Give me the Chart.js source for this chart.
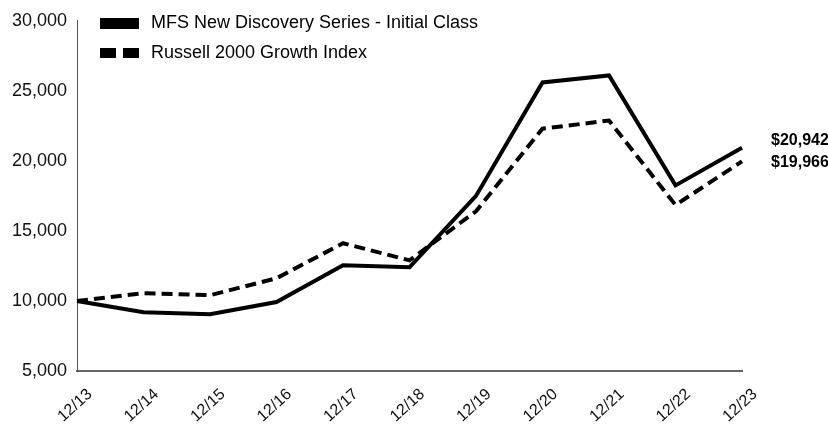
<!DOCTYPE html>
<html>
<head>
<meta charset="utf-8">
<script src="https://cdn.jsdelivr.net/npm/chart.js@4/dist/chart.umd.min.js"></script>
<style>
  html, body { margin: 0; padding: 0; background: #fff; }
  #wrap { width: 828px; height: 429px; }
</style>
</head>
<body>
<div id="wrap"><canvas id="growthChart" width="828" height="429"></canvas></div>
<script>
// values
const years = ["12/13", "12/14", "12/15", "12/16", "12/17", "12/18", "12/19", "12/20", "12/21", "12/22", "12/23"]
const fundValues = [10000, 9200, 9060, 9920, 12550, 12400, 17500, 25600, 26100, 18250, 20942]
const indexValues = [10000, 10550, 10410, 11620, 14120, 12900, 16400, 22300, 22880, 16850, 19966]
const seriesNames = ["MFS New Discovery Series - Initial Class", "Russell 2000 Growth Index"]
const endLabels = ["$20,942", "$19,966"]

const FONT = "'Liberation Sans', Arial, sans-serif"

// legend drawn in the top-left corner of the plot
const legendPlugin = {
  id: "cornerLegend",
  afterDraw(chart) {
    const ctx = chart.ctx
    ctx.save()
    ctx.fillStyle = "#000"
    // solid swatch
    ctx.fillRect(100, 18, 39, 11)
    // dashed swatch
    ctx.fillRect(100, 48, 16, 10)
    ctx.fillRect(123, 48, 16, 10)
    ctx.font = "18px " + FONT
    ctx.textBaseline = "middle"
    ctx.fillText(seriesNames[0], 151, 23)
    ctx.fillText(seriesNames[1], 151, 53)
    ctx.restore()
  }
}

// final values printed next to the last points
const endLabelPlugin = {
  id: "endLabels",
  afterDatasetsDraw(chart) {
    const ctx = chart.ctx
    const last = years.length - 1
    ctx.save()
    ctx.font = "bold 16px " + FONT
    ctx.fillStyle = "#000"
    ctx.textBaseline = "middle"
    const x = chart.scales.x.getPixelForValue(last) + 29
    ctx.fillText(endLabels[0], x, 141)
    ctx.fillText(endLabels[1], x, 163)
    ctx.restore()
  }
}

new Chart(document.getElementById("growthChart"), {
  type: "line",
  data: {
    labels: years,
    datasets: [{
      label: seriesNames[0],
      data: fundValues,
      borderColor: "#000",
      borderWidth: 4,
      pointRadius: 0,
      tension: 0,
      borderJoinStyle: "miter"
    }, {
      label: seriesNames[1],
      data: indexValues,
      borderColor: "#000",
      borderWidth: 4,
      borderDash: [11, 6],
      pointRadius: 0,
      tension: 0,
      borderJoinStyle: "miter"
    }]
  },
  options: {
    responsive: false,
    animation: false,
    layout: { padding: { top: 20, right: 86, left: 0, bottom: 0 } },
    plugins: {
      legend: { display: false },
      tooltip: { enabled: false }
    },
    scales: {
      x: {
        offset: false,
        grid: { display: false, drawTicks: false },
        border: { display: true, color: "#666", width: 2 },
        ticks: {
          color: "#111",
          font: { family: FONT, size: 16 },
          maxRotation: 42,
          minRotation: 42,
          padding: 14,
          labelOffset: 13
        },
        afterFit(scale) { scale.height = 58 }
      },
      y: {
        min: 5000,
        max: 30000,
        grid: { display: false, drawTicks: false },
        border: { display: true, color: "#555", width: 1 },
        ticks: {
          stepSize: 5000,
          color: "#111",
          padding: 10,
          font: { family: FONT, size: 18 },
          callback: (v) => v.toLocaleString("en-US")
        },
        afterFit(scale) { scale.width = 77 }
      }
    }
  },
  plugins: [legendPlugin, endLabelPlugin]
})
</script>
</body>
</html>
